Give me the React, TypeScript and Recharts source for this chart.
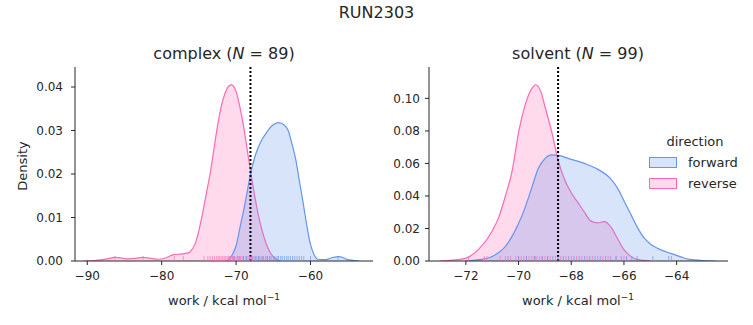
import React from "react";
import {
  Area,
  ComposedChart,
  ReferenceLine,
  Scatter,
  XAxis,
  YAxis,
} from "recharts";

const FWD = "#6495ED";
const REV = "#FF69B4";
const INK = "#262626";
const FONT = "'DejaVu Sans', sans-serif";

// complex leg: kde curves (work, density)
const complexFwdX = [-71.5, -71, -70.5, -70, -69.5, -69, -68.5, -68, -67.5, -67, -66.5, -66, -65.5, -65, -64.3, -63.5, -63, -62.5, -62, -61.5, -61, -60.5, -60, -59.5, -59, -58, -57, -56.3, -55.5, -55, -54, -53.5];
const complexFwdY = [0, 0.0003, 0.0015, 0.0035, 0.0075, 0.0115, 0.016, 0.0205, 0.0238, 0.0262, 0.028, 0.0293, 0.0305, 0.0313, 0.0318, 0.0312, 0.03, 0.027, 0.0235, 0.0185, 0.0135, 0.0082, 0.0038, 0.0014, 0.0004, 0.0003, 0.0008, 0.001, 0.0007, 0.0003, 0.0001, 0];
const complexRevX = [-90.5, -89, -88, -87, -86.3, -85.5, -84.5, -83.5, -82.5, -81.5, -80.5, -79.5, -78.5, -77.5, -76.5, -76, -75.5, -75, -74.5, -74, -73.5, -73, -72.5, -72, -71.5, -71, -70.6, -70, -69.5, -69, -68.5, -68, -67.5, -67, -66.5, -66, -65.5, -65, -64.5, -64];
const complexRevY = [0, 0.0001, 0.0003, 0.0006, 0.00085, 0.0007, 0.0005, 0.0006, 0.00085, 0.0006, 0.0004, 0.0007, 0.0014, 0.0016, 0.0018, 0.0025, 0.004, 0.007, 0.011, 0.0155, 0.02, 0.0255, 0.031, 0.0355, 0.0385, 0.0402, 0.0405, 0.039, 0.0355, 0.031, 0.0255, 0.02, 0.015, 0.0105, 0.007, 0.0042, 0.0022, 0.001, 0.0003, 0];

// solvent leg
const solventFwdX = [-72, -71.5, -71, -70.5, -70, -69.75, -69.5, -69.25, -69, -68.75, -68.5, -68, -67.5, -67, -66.5, -66.25, -66, -65.75, -65.5, -65.25, -65, -64.75, -64.5, -64.25, -64, -63.75, -63.5, -63, -62.5];
const solventFwdY = [0, 0.0008, 0.0028, 0.009, 0.023, 0.033, 0.045, 0.057, 0.063, 0.0653, 0.065, 0.0625, 0.06, 0.0565, 0.0505, 0.045, 0.037, 0.029, 0.021, 0.0145, 0.0105, 0.008, 0.0062, 0.0048, 0.0035, 0.002, 0.001, 0.0003, 0];
const solventRevX = [-73, -72.5, -72, -71.5, -71, -70.75, -70.5, -70.25, -70, -69.75, -69.5, -69.35, -69.15, -69, -68.75, -68.5, -68.25, -68, -67.75, -67.5, -67.25, -67, -66.75, -66.5, -66.25, -66, -65.75, -65.5, -65];
const solventRevY = [0, 0.0005, 0.0018, 0.0075, 0.0185, 0.027, 0.04, 0.055, 0.079, 0.096, 0.106, 0.1084, 0.104, 0.095, 0.08, 0.062, 0.05, 0.042, 0.036, 0.03, 0.0245, 0.0235, 0.0242, 0.021, 0.014, 0.007, 0.003, 0.001, 0];

// rug samples
const complexRugFwd = [-70.3, -69.6, -69.0, -68.6, -68.2, -67.9, -67.6, -67.3, -67.0, -66.8, -66.5, -66.3, -66.0, -65.8, -65.5, -65.3, -65.0, -64.8, -64.5, -64.3, -64.0, -63.8, -63.5, -63.2, -63.0, -62.7, -62.4, -62.1, -61.8, -61.5, -61.2, -60.9, -60.0, -56.3];
const complexRugRev = [-86.3, -82.5, -78.3, -77.1, -74.3, -73.8, -73.5, -73.2, -72.9, -72.6, -72.4, -72.2, -72.0, -71.8, -71.6, -71.4, -71.2, -71.0, -70.9, -70.7, -70.5, -70.4, -70.2, -70.0, -69.8, -69.6, -69.4, -69.2, -69.0, -68.7, -68.4, -68.1, -67.8, -67.4, -67.0, -66.5, -65.8];
const solventRugFwd = [-70.4, -70.0, -69.7, -69.4, -69.1, -68.9, -68.7, -68.5, -68.3, -68.1, -67.9, -67.7, -67.5, -67.3, -67.1, -66.9, -66.7, -66.5, -66.3, -66.1, -65.9, -65.7, -65.5, -64.9, -64.3, -64.2];
const solventRugRev = [-71.9, -71.3, -71.2, -70.7, -70.5, -70.3, -70.1, -70.0, -69.9, -69.8, -69.7, -69.6, -69.5, -69.4, -69.35, -69.3, -69.2, -69.1, -69.0, -68.9, -68.8, -68.6, -68.4, -68.2, -68.0, -67.8, -67.6, -67.4, -67.2, -67.0, -66.8, -66.6, -66.3, -66.0];

// dotted estimate lines
const complexEstimate = -68.07;
const solventEstimate = -68.5;

const complexXTicks = [-90, -80, -70, -60];
const complexYTicks = [0, 0.01, 0.02, 0.03, 0.04];
const solventXTicks = [-72, -70, -68, -66, -64];
const solventYTicks = [0, 0.02, 0.04, 0.06, 0.08, 0.1];

const buildRows = (fx: number[], fy: number[], rx: number[], ry: number[]) => {
  const map = new Map<number, any>();
  fx.forEach((x, i) => {
    const r = map.get(x) ?? { x };
    r.fwd = fy[i];
    map.set(x, r);
  });
  rx.forEach((x, i) => {
    const r = map.get(x) ?? { x };
    r.rev = ry[i];
    map.set(x, r);
  });
  return [...map.values()].sort((a, b) => a.x - b.x);
};

const rugRows = (xs: number[]) => xs.map((x) => ({ x, y: 0 }));

const minus = (v: number) => (v < 0 ? `\u2212${Math.abs(v)}` : `${v}`);

const RugTick = (props: any) => {
  const { cx, cy, color } = props;
  if (cx == null || cy == null) return null;
  return (
    <line x1={cx} x2={cx} y1={cy - 5} y2={cy} stroke={color} strokeWidth={1} strokeOpacity={0.65} />
  );
};

const tickStyle = { fontSize: 12, fill: INK, fontFamily: FONT };

interface IPanel {
  rows: any[];
  rugFwd: number[];
  rugRev: number[];
  estimate: number;
  xDomain: [number, number];
  yDomain: [number, number];
  xTicks: number[];
  yTicks: number[];
  width: number;
  margin: { top: number; right: number; bottom: number; left: number };
  yWidth: number;
  yTickMargin: number;
}

const Panel = (p: IPanel) => (
  <ComposedChart width={p.width} height={325} data={p.rows} margin={p.margin}>
    <XAxis
      type="number"
      dataKey="x"
      domain={p.xDomain}
      allowDataOverflow
      ticks={p.xTicks}
      tickFormatter={minus}
      tick={tickStyle}
      tickSize={4}
      tickMargin={6}
      stroke={INK}
      height={40}
    />
    <YAxis
      type="number"
      domain={p.yDomain}
      allowDataOverflow
      ticks={p.yTicks}
      tickFormatter={(v: number) => v.toFixed(2)}
      tick={tickStyle}
      tickSize={4}
      tickMargin={p.yTickMargin}
      stroke={INK}
      width={p.yWidth}
    />
    <Area
      type="monotone"
      dataKey="rev"
      stroke={REV}
      strokeWidth={1.2}
      fill={REV}
      fillOpacity={0.25}
      connectNulls
      dot={false}
      activeDot={false}
      isAnimationActive={false}
    />
    <Area
      type="monotone"
      dataKey="fwd"
      stroke={FWD}
      strokeWidth={1.2}
      fill={FWD}
      fillOpacity={0.25}
      connectNulls
      dot={false}
      activeDot={false}
      isAnimationActive={false}
    />
    <Scatter
      data={rugRows(p.rugRev)}
      dataKey="y"
      shape={(s: any) => <RugTick {...s} color={REV} />}
      isAnimationActive={false}
    />
    <Scatter
      data={rugRows(p.rugFwd)}
      dataKey="y"
      shape={(s: any) => <RugTick {...s} color={FWD} />}
      isAnimationActive={false}
    />
    <ReferenceLine x={p.estimate} stroke="#000" strokeWidth={2} strokeDasharray="2 2" />
  </ComposedChart>
);

const Text = ({ x, y, size, children, rotate, align }: any) => (
  <div
    style={{
      position: "absolute",
      left: x,
      top: y,
      fontSize: size,
      color: INK,
      whiteSpace: "nowrap",
      lineHeight: 1,
      transform: `translate(${align === "left" ? "0" : "-50%"}, -50%)${rotate ? ` rotate(${rotate}deg)` : ""}`,
    }}
  >
    {children}
  </div>
);

const Swatch = ({ x, y, color }: any) => (
  <div
    style={{
      position: "absolute",
      left: x,
      top: y,
      width: 26,
      height: 9,
      border: `1px solid ${color}`,
      background: color === FWD ? "rgba(100,149,237,0.25)" : "rgba(255,105,180,0.25)",
    }}
  />
);

const App = () => {
  const complexRows = buildRows(complexFwdX, complexFwdY, complexRevX, complexRevY);
  const solventRows = buildRows(solventFwdX, solventFwdY, solventRevX, solventRevY);
  const xlabel = (
    <>
      work / kcal mol<sup style={{ fontSize: 9, verticalAlign: "0.5em" }}>{"\u22121"}</sup>
    </>
  );
  return (
    <div
      style={{
        position: "absolute",
        left: 0,
        top: 0,
        width: 753,
        height: 325,
        background: "#fff",
        fontFamily: FONT,
        overflow: "hidden",
      }}
    >
      <div style={{ position: "absolute", left: 0, top: 0 }}>
        <Panel
          rows={complexRows}
          rugFwd={complexRugFwd}
          rugRev={complexRugRev}
          estimate={complexEstimate}
          xDomain={[-91.65, -51.6]}
          yDomain={[0, 0.0446]}
          xTicks={complexXTicks}
          yTicks={complexYTicks}
          width={380}
          margin={{ top: 67, right: 7, bottom: 24, left: 15 }}
          yWidth={60}
          yTickMargin={8}
        />
      </div>
      <div style={{ position: "absolute", left: 380, top: 0 }}>
        <Panel
          rows={solventRows}
          rugFwd={solventRugFwd}
          rugRev={solventRugRev}
          estimate={solventEstimate}
          xDomain={[-73.4, -62.05]}
          yDomain={[0, 0.1193]}
          xTicks={solventXTicks}
          yTicks={solventYTicks}
          width={373}
          margin={{ top: 67, right: 25, bottom: 24, left: 5 }}
          yWidth={44}
          yTickMargin={5}
        />
      </div>

      <Text x={376.5} y={13} size={16}>RUN2303</Text>
      <Text x={224} y={54} size={16}>
        complex (<i>N</i> = 89)
      </Text>
      <Text x={578} y={54} size={16}>
        solvent (<i>N</i> = 99)
      </Text>
      <Text x={224} y={300} size={13}>{xlabel}</Text>
      <Text x={578} y={300} size={13}>{xlabel}</Text>
      <Text x={22} y={166} size={13} rotate={-90}>Density</Text>

      <Text x={695} y={141} size={13}>direction</Text>
      <Swatch x={649} y={157} color={FWD} />
      <Text x={688} y={162} size={13} align="left">forward</Text>
      <Swatch x={649} y={178} color={REV} />
      <Text x={688} y={183} size={13} align="left">reverse</Text>
    </div>
  );
};

export default App;
